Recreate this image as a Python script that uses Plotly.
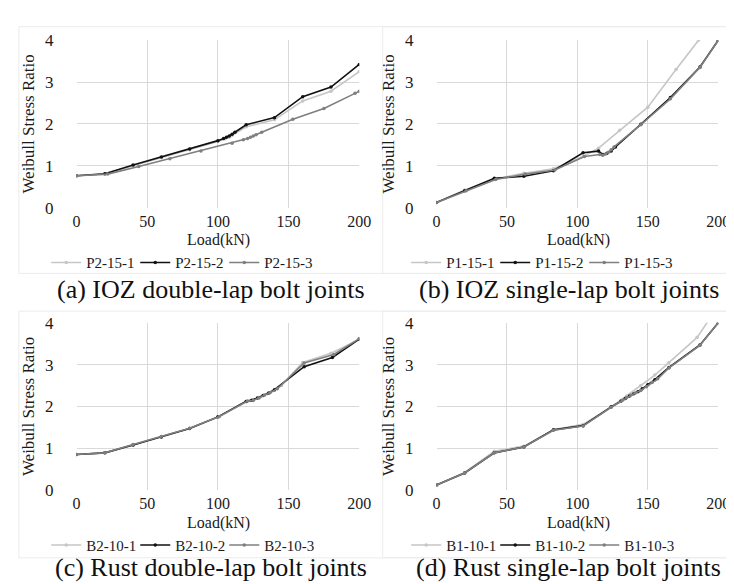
import plotly.graph_objects as go

# ---------------- data ----------------
# (a) IOZ double-lap
a1_x = [0, 20, 40, 60, 80, 100, 105, 108, 110, 120, 140, 160, 180, 200]
a1_y = [0.76, 0.80, 1.00, 1.19, 1.38, 1.58, 1.64, 1.68, 1.72, 1.93, 2.10, 2.55, 2.78, 3.25]
a2_x = [0, 20, 40, 60, 80, 100, 104, 106, 108, 110, 112, 120, 140, 160, 180, 200]
a2_y = [0.76, 0.81, 1.02, 1.21, 1.40, 1.60, 1.65, 1.68, 1.71, 1.75, 1.80, 1.98, 2.15, 2.65, 2.88, 3.42]
a3_x = [0, 22, 44, 66, 88, 110, 118, 121, 123, 125, 127, 131, 153, 175, 197, 200]
a3_y = [0.76, 0.80, 0.98, 1.17, 1.35, 1.54, 1.62, 1.65, 1.68, 1.71, 1.74, 1.80, 2.11, 2.37, 2.73, 2.78]

# (b) IOZ single-lap
b1_x = [0, 20, 41, 62, 83, 104, 115, 130, 150, 170, 186, 195]
b1_y = [0.12, 0.42, 0.68, 0.82, 0.93, 1.22, 1.42, 1.85, 2.40, 3.30, 4.00, 4.55]
b2_x = [0, 20, 41, 62, 83, 104, 115, 118, 121, 124, 127, 145, 166, 187, 200]
b2_y = [0.12, 0.40, 0.70, 0.75, 0.88, 1.31, 1.35, 1.27, 1.30, 1.35, 1.45, 1.99, 2.63, 3.36, 4.00]
b3_x = [0, 21, 42, 63, 84, 105, 116, 118, 120, 122, 124, 126, 145, 166, 187, 200]
b3_y = [0.12, 0.40, 0.67, 0.80, 0.90, 1.22, 1.27, 1.25, 1.28, 1.32, 1.38, 1.45, 1.98, 2.60, 3.35, 4.00]

# (c) Rust double-lap
c1_x = [0, 20, 40, 60, 80, 100, 120, 125, 130, 135, 140, 145, 160, 180, 200]
c1_y = [0.85, 0.89, 1.08, 1.27, 1.47, 1.74, 2.12, 2.16, 2.22, 2.30, 2.38, 2.50, 3.05, 3.27, 3.60]
c2_x = [0, 20, 40, 60, 80, 100, 120, 124, 128, 132, 136, 140, 161, 181, 200]
c2_y = [0.85, 0.89, 1.08, 1.27, 1.47, 1.75, 2.12, 2.15, 2.20, 2.26, 2.32, 2.40, 2.95, 3.17, 3.61]
c3_x = [0, 20, 40, 60, 80, 101, 121, 125, 129, 133, 137, 142, 161, 182, 200]
c3_y = [0.85, 0.89, 1.09, 1.28, 1.48, 1.76, 2.13, 2.14, 2.20, 2.27, 2.33, 2.42, 3.04, 3.24, 3.62]

# (d) Rust single-lap
d1_x = [0, 20, 41, 62, 83, 104, 124, 135, 145, 155, 165, 185, 200]
d1_y = [0.12, 0.42, 0.93, 1.05, 1.44, 1.57, 1.99, 2.25, 2.50, 2.75, 3.05, 3.65, 4.40]
d2_x = [0, 20, 41, 62, 83, 104, 124, 131, 134, 137, 140, 143, 146, 150, 155, 165, 187, 200]
d2_y = [0.12, 0.41, 0.89, 1.03, 1.44, 1.54, 1.99, 2.13, 2.19, 2.25, 2.30, 2.35, 2.42, 2.52, 2.64, 2.93, 3.47, 4.00]
d3_x = [0, 20, 41, 62, 83, 104, 124, 132, 135, 138, 141, 145, 149, 153, 157, 165, 187, 200]
d3_y = [0.12, 0.41, 0.89, 1.03, 1.43, 1.53, 1.98, 2.15, 2.21, 2.27, 2.32, 2.38, 2.47, 2.57, 2.66, 2.92, 3.46, 4.00]

names_a = ["P2-15-1", "P2-15-2", "P2-15-3"]
names_b = ["P1-15-1", "P1-15-2", "P1-15-3"]
names_c = ["B2-10-1", "B2-10-2", "B2-10-3"]
names_d = ["B1-10-1", "B1-10-2", "B1-10-3"]

captions = ["(a) IOZ double-lap bolt joints", "(b) IOZ single-lap bolt joints",
            "(c) Rust double-lap bolt joints", "(d) Rust single-lap bolt joints"]

x_title = "Load(kN)"
y_title = "Weibull Stress Ratio"
x_ticks = [0, 50, 100, 150, 200]
y_ticks = [0, 1, 2, 3, 4]

# ---------------- style ----------------
W, H = 734, 584
FONT = "Liberation Serif"
colors = ["#c6c6c6", "#111111", "#7f7f7f"]

def px_x(p):
    return p / W

def px_y(p):
    return 1 - p / H

# plot-area pixel boxes (left, right, top, bottom)
boxes = [(66, 355, 24, 197), (434, 722, 24, 197),
         (66, 355, 316, 489), (434, 722, 316, 489)]
caption_cx = [203, 569, 203, 569]
caption_dy = [85, 85, 80, 80]
legend_text_dx = [21, 112, 203]   # text start offsets from the plot's left edge

panels = [
    (names_a, [(a1_x, a1_y), (a2_x, a2_y), (a3_x, a3_y)]),
    (names_b, [(b1_x, b1_y), (b2_x, b2_y), (b3_x, b3_y)]),
    (names_c, [(c1_x, c1_y), (c2_x, c2_y), (c3_x, c3_y)]),
    (names_d, [(d1_x, d1_y), (d2_x, d2_y), (d3_x, d3_y)]),
]

fig = go.Figure()
layout = dict(
    width=W, height=H,
    margin=dict(l=0, r=0, t=0, b=0),
    paper_bgcolor="white", plot_bgcolor="white",
    font=dict(family=FONT, color="#1a1a1a", size=16),
    showlegend=True,
)

annotations = []
shapes = []
n = 0
for i, (names, series) in enumerate(panels):
    k = "" if i == 0 else str(i + 1)
    L, R, T, B = boxes[i]
    for j, (xs, ys) in enumerate(series):
        n += 1
        lg = "legend" if n == 1 else "legend" + str(n)
        fig.add_trace(go.Scatter(
            x=xs, y=ys, name=names[j], mode="lines+markers",
            line=dict(color=colors[j], width=1.6),
            marker=dict(color=colors[j], size=3.5, symbol="circle"),
            xaxis="x" + k, yaxis="y" + k, legend=lg,
        ))
        layout[lg] = dict(
            orientation="h", x=px_x(L + legend_text_dx[j] - 52), y=px_y(B + 57),
            xanchor="left", yanchor="middle", itemwidth=30,
            font=dict(size=15, family=FONT, color="#1a1a1a"),
            bgcolor="rgba(0,0,0,0)",
        )
    layout["xaxis" + k] = dict(
        domain=[px_x(L), px_x(R)], anchor="y" + k, range=[0, 200],
        tickvals=x_ticks, showgrid=True, gridcolor="#d9d9d9", gridwidth=1,
        zeroline=False, showline=False, ticks="", ticklabelstandoff=2,
        tickfont=dict(size=16, family=FONT, color="#1a1a1a"),
    )
    layout["yaxis" + k] = dict(
        domain=[px_y(B), px_y(T)], anchor="x" + k, range=[0, 4],
        tickvals=y_ticks, showgrid=True, gridcolor="#d9d9d9", gridwidth=1,
        zeroline=False, showline=False, ticks="", ticklabelstandoff=22,
        tickfont=dict(size=17, family=FONT, color="#1a1a1a"),
        title=dict(text=y_title, standoff=6, font=dict(size=17, family=FONT)),
    )
    annotations.append(dict(
        text=x_title, xref="paper", yref="paper",
        x=px_x((L + R) / 2 + 1), y=px_y(B + 34), xanchor="center", yanchor="middle",
        showarrow=False, font=dict(size=16, family=FONT, color="#1a1a1a"),
    ))
    annotations.append(dict(
        text=captions[i], xref="paper", yref="paper",
        x=px_x(caption_cx[i]), y=px_y(B + caption_dy[i]), xanchor="center", yanchor="middle",
        showarrow=False, font=dict(size=26, family=FONT, color="#111111"),
    ))

# faint chart-area borders
for (x0, x1, y0, y1) in [(7, 740, 10, 265), (379, 740, 10, 265),
                         (7, 740, 304, 559), (379, 740, 304, 559)]:
    shapes.append(dict(type="rect", xref="paper", yref="paper",
                       x0=px_x(x0), x1=px_x(x1), y0=px_y(y1), y1=px_y(y0),
                       line=dict(color="#ececec", width=1), layer="below"))

layout["annotations"] = annotations
layout["shapes"] = shapes
fig.update_layout(**layout)
fig.write_html("out.html")
